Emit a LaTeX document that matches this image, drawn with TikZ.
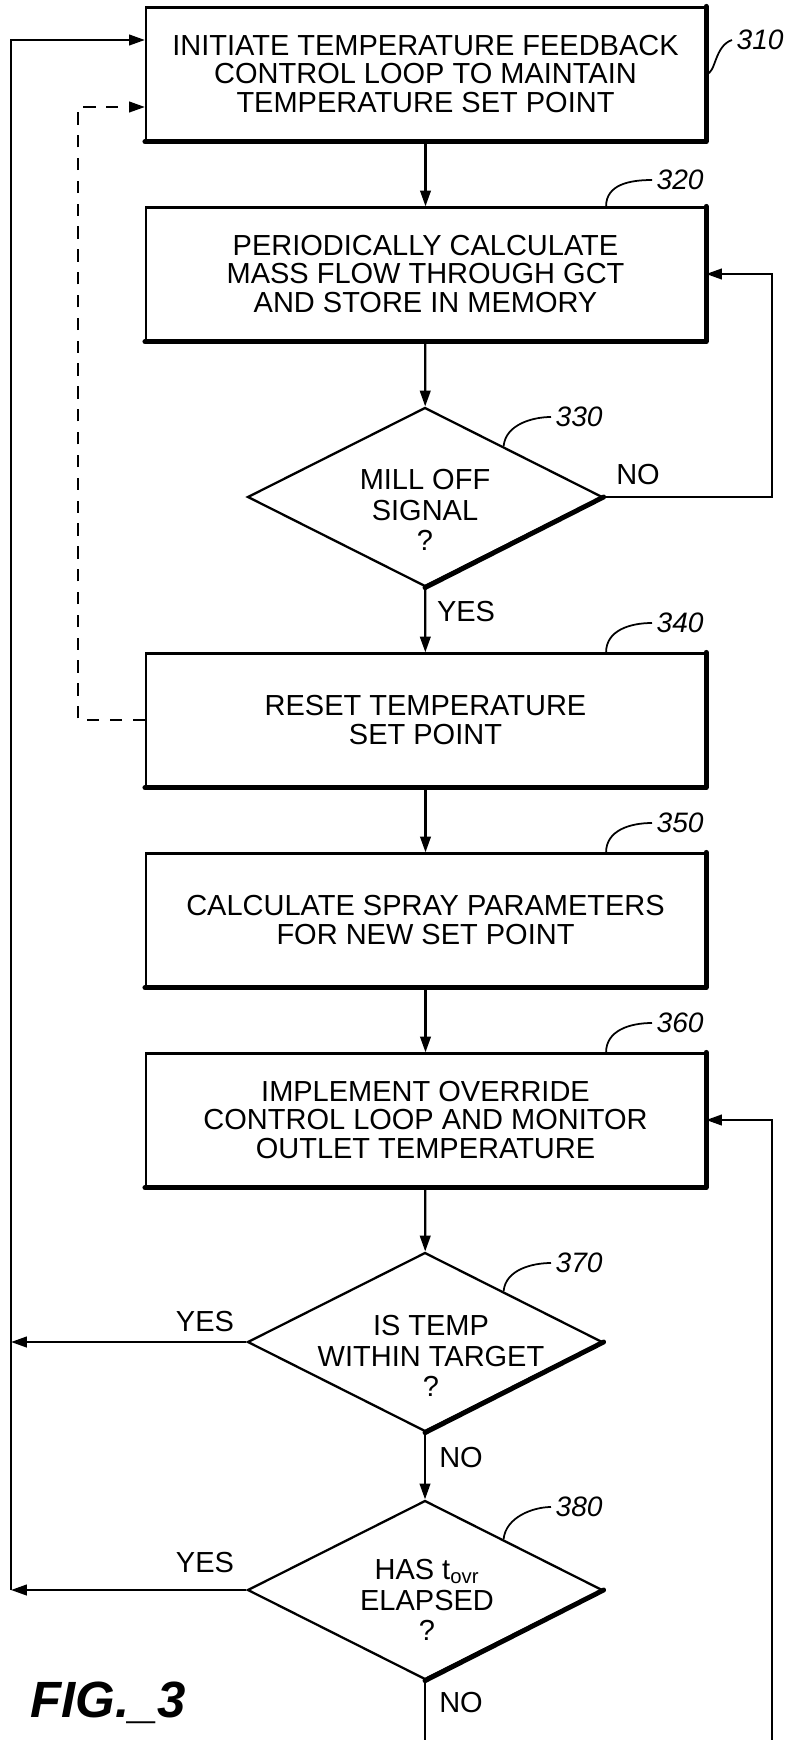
\documentclass[tikz,border=0pt]{standalone}
\usepackage{fontspec}
\setmainfont{Liberation Sans}
\usepackage{tikz}
\usetikzlibrary{arrows.meta,calc,positioning,shapes.geometric}

\begin{document}
\begin{tikzpicture}[x=0.02cm,y=-0.02cm,line width=1.3pt,
  box/.style={draw,line width=1.3pt,minimum width=11.18cm,minimum height=2.66cm,inner sep=0pt,align=center,font=\fontsize{16.5}{16}\selectfont},
  dia/.style={draw,diamond,line width=1.3pt,minimum width=7.1cm,minimum height=3.58cm,inner sep=0pt},
  dtxt/.style={align=center,inner sep=0pt,font=\fontsize{16.5}{17.5}\selectfont},
  heavy/.style={line width=2.8pt,line cap=round,line join=round},
  arr/.style={-{Triangle[length=9pt,width=6pt]}},
  yn/.style={inner sep=0pt,font=\fontsize{16.5}{16.5}\selectfont},
  num/.style={anchor=west,inner sep=2pt,font=\fontsize{16}{16}\selectfont\itshape},
  lead/.style={line width=1pt}]
\useasboundingbox (0,0) rectangle (790,1740);
\coordinate (lx) at (11,0);
\coordinate (dx) at (78,0);
\coordinate (rx) at (772,0);
\coordinate (rb) at (772,1740);
\coordinate (nb) at (425,1740);
\node[box] (b310) at (425.5,74) {INITIATE TEMPERATURE FEEDBACK\\CONTROL LOOP TO MAINTAIN\\TEMPERATURE SET POINT};
\node[box] (b320) at (425.5,274) {PERIODICALLY CALCULATE\\MASS FLOW THROUGH GCT\\AND STORE IN MEMORY};
\node[dia] (d330) at (425,497) {};
\node[dtxt] (t330) at (425,510) {MILL OFF\\SIGNAL\\?};
\node[box] (b340) at (425.5,720) {RESET TEMPERATURE\\SET POINT};
\node[box] (b350) at (425.5,920) {CALCULATE SPRAY PARAMETERS\\FOR NEW SET POINT};
\node[box] (b360) at (425.5,1120) {IMPLEMENT OVERRIDE\\CONTROL LOOP AND MONITOR\\OUTLET TEMPERATURE};
\node[dia] (d370) at (425,1342) {};
\node[dtxt] (t370) at (431,1356) {IS TEMP\\WITHIN TARGET\\?};
\node[dia] (d380) at (425,1590) {};
\node[dtxt] (t380) at (427,1600) {HAS t\textsubscript{ovr}\\ELAPSED\\?};
\foreach \b in {b310,b320,b340,b350,b360}
  \draw[heavy] (\b.north east) -- (\b.south east) -- (\b.south west);
\foreach \d in {d330,d370,d380}
  \draw[heavy] (\d.east) -- (\d.south);
\draw[arr] (b310) -- (b320);
\draw[arr] (b320) -- (d330);
\draw[arr] (d330) -- (b340);
\draw[arr] (b340) -- (b350);
\draw[arr] (b350) -- (b360);
\draw[arr] (b360) -- (d370);
\draw[arr] (d370) -- (d380);
\draw (d380.south) -- (nb);
\draw[arr] (d330.east) -- (d330.east -| rx) -- (rx |- b320.east) -- (b320.east);
\draw[arr] (rb) -- (rx |- b360.east) -- (b360.east);
\draw[arr] (d370.west) -- (d370.west -| lx);
\draw[arr] (d380.west) -- (d380.west -| lx);
\draw[arr] (d380.west -| lx) -- (lx |- {$(b310.west)+(0,-34)$}) -- ($(b310.west)+(0,-34)$);
\draw[arr,dash pattern=on 7pt off 6pt] (b340.west) -- (b340.west -| dx) -- (dx |- {$(b310.west)+(0,33)$}) -- ($(b310.west)+(0,33)$);
\node[yn] (no330) at (638,475) {NO};
\node[yn] (yes330) at (466,612) {YES};
\node[yn] (yes370) at (205,1322) {YES};
\node[yn] (no370) at (461,1458) {NO};
\node[yn] (yes380) at (205,1563) {YES};
\node[yn] (no380) at (461,1702) {NO};
\node[num] (n310) at (732,40) {310};
\node[num] (n320) at (652,180) {320};
\node[num] (n330) at (551,417) {330};
\node[num] (n340) at (652,623) {340};
\node[num] (n350) at (652,823) {350};
\node[num] (n360) at (652,1023) {360};
\node[num] (n370) at (551,1263) {370};
\node[num] (n380) at (551,1507) {380};
\draw[lead] (b310.east) .. controls (716,74) and (714,46) .. (n310.west);
\foreach \b in {320,340,350,360}
  \draw[lead] ($(b\b.north east)+(-100,0)$) .. controls +(0,-22) and +(-22,0) .. (n\b.west);
\foreach \d in {330,370,380}
  \draw[lead] ($(d\d.north)!0.44!(d\d.east)$) .. controls +(2,-22) and +(-18,0) .. (n\d.west);
\node[font=\fontsize{29}{29}\selectfont\bfseries\itshape] (fig) at (108,1703) {FIG.\_3};
\end{tikzpicture}
\end{document}
